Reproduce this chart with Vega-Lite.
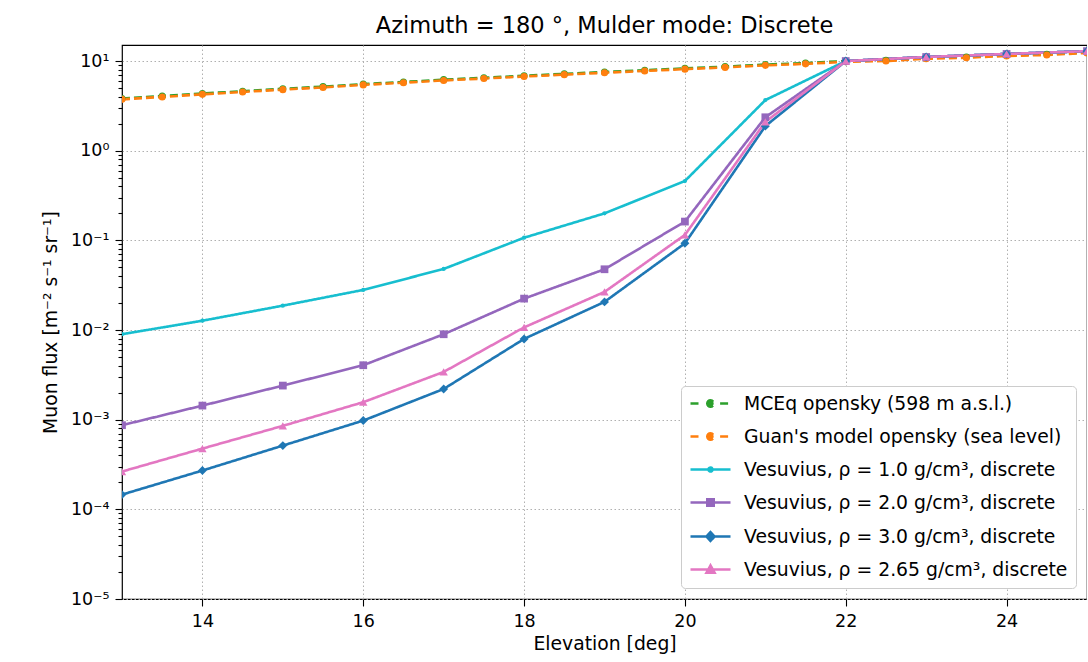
{
  "$schema": "https://vega.github.io/schema/vega-lite/v6.json",
  "width": 965,
  "height": 554,
  "autosize": "none",
  "padding": {"left": 122, "top": 45, "right": 0, "bottom": 63},
  "background": "white",
  "config": {
    "font": "DejaVu Sans",
    "view": {"stroke": "black", "strokeWidth": 1.2},
    "axis": {"labelFont": "DejaVu Sans", "titleFont": "DejaVu Sans", "labelColor": "black", "titleColor": "black", "titleFontWeight": "normal", "tickColor": "black", "domainColor": "black", "gridColor": "#b0b0b0", "gridDash": [1.5, 2.5], "gridWidth": 1, "tickWidth": 1.1}
  },
  "title": {"text": "Azimuth = 180 °, Mulder mode: Discrete", "fontSize": 22.5, "font": "DejaVu Sans", "fontWeight": "normal", "anchor": "middle", "offset": 8, "color": "black"},
  "data": {"values": [
    {"s": "MCEq opensky (598 m a.s.l.)", "x": 13, "y": 3.81}, {"s": "MCEq opensky (598 m a.s.l.)", "x": 13.5, "y": 4.06}, {"s": "MCEq opensky (598 m a.s.l.)", "x": 14, "y": 4.34}, {"s": "MCEq opensky (598 m a.s.l.)", "x": 14.5, "y": 4.61}, {"s": "MCEq opensky (598 m a.s.l.)", "x": 15, "y": 4.9}, {"s": "MCEq opensky (598 m a.s.l.)", "x": 15.5, "y": 5.18}, {"s": "MCEq opensky (598 m a.s.l.)", "x": 16, "y": 5.53}, {"s": "MCEq opensky (598 m a.s.l.)", "x": 16.5, "y": 5.84}, {"s": "MCEq opensky (598 m a.s.l.)", "x": 17, "y": 6.2}, {"s": "MCEq opensky (598 m a.s.l.)", "x": 17.5, "y": 6.51}, {"s": "MCEq opensky (598 m a.s.l.)", "x": 18, "y": 6.85}, {"s": "MCEq opensky (598 m a.s.l.)", "x": 18.5, "y": 7.19}, {"s": "MCEq opensky (598 m a.s.l.)", "x": 19, "y": 7.55}, {"s": "MCEq opensky (598 m a.s.l.)", "x": 19.5, "y": 7.9}, {"s": "MCEq opensky (598 m a.s.l.)", "x": 20, "y": 8.28}, {"s": "MCEq opensky (598 m a.s.l.)", "x": 20.5, "y": 8.67}, {"s": "MCEq opensky (598 m a.s.l.)", "x": 21, "y": 9.13}, {"s": "MCEq opensky (598 m a.s.l.)", "x": 21.5, "y": 9.49}, {"s": "MCEq opensky (598 m a.s.l.)", "x": 22, "y": 10.0}, {"s": "MCEq opensky (598 m a.s.l.)", "x": 22.5, "y": 10.2}, {"s": "MCEq opensky (598 m a.s.l.)", "x": 23, "y": 10.8}, {"s": "MCEq opensky (598 m a.s.l.)", "x": 23.5, "y": 11.1}, {"s": "MCEq opensky (598 m a.s.l.)", "x": 24, "y": 11.6}, {"s": "MCEq opensky (598 m a.s.l.)", "x": 24.5, "y": 11.9}, {"s": "MCEq opensky (598 m a.s.l.)", "x": 25, "y": 12.5},
    {"s": "Guan's model opensky (sea level)", "x": 13, "y": 3.74}, {"s": "Guan's model opensky (sea level)", "x": 13.5, "y": 3.98}, {"s": "Guan's model opensky (sea level)", "x": 14, "y": 4.25}, {"s": "Guan's model opensky (sea level)", "x": 14.5, "y": 4.52}, {"s": "Guan's model opensky (sea level)", "x": 15, "y": 4.8}, {"s": "Guan's model opensky (sea level)", "x": 15.5, "y": 5.08}, {"s": "Guan's model opensky (sea level)", "x": 16, "y": 5.42}, {"s": "Guan's model opensky (sea level)", "x": 16.5, "y": 5.73}, {"s": "Guan's model opensky (sea level)", "x": 17, "y": 6.08}, {"s": "Guan's model opensky (sea level)", "x": 17.5, "y": 6.38}, {"s": "Guan's model opensky (sea level)", "x": 18, "y": 6.72}, {"s": "Guan's model opensky (sea level)", "x": 18.5, "y": 7.05}, {"s": "Guan's model opensky (sea level)", "x": 19, "y": 7.4}, {"s": "Guan's model opensky (sea level)", "x": 19.5, "y": 7.75}, {"s": "Guan's model opensky (sea level)", "x": 20, "y": 8.12}, {"s": "Guan's model opensky (sea level)", "x": 20.5, "y": 8.5}, {"s": "Guan's model opensky (sea level)", "x": 21, "y": 8.95}, {"s": "Guan's model opensky (sea level)", "x": 21.5, "y": 9.3}, {"s": "Guan's model opensky (sea level)", "x": 22, "y": 9.8}, {"s": "Guan's model opensky (sea level)", "x": 22.5, "y": 10.0}, {"s": "Guan's model opensky (sea level)", "x": 23, "y": 10.6}, {"s": "Guan's model opensky (sea level)", "x": 23.5, "y": 10.9}, {"s": "Guan's model opensky (sea level)", "x": 24, "y": 11.4}, {"s": "Guan's model opensky (sea level)", "x": 24.5, "y": 11.7}, {"s": "Guan's model opensky (sea level)", "x": 25, "y": 12.3},
    {"s": "Vesuvius, ρ = 1.0 g/cm³, discrete", "x": 13, "y": 0.00898}, {"s": "Vesuvius, ρ = 1.0 g/cm³, discrete", "x": 14, "y": 0.0127}, {"s": "Vesuvius, ρ = 1.0 g/cm³, discrete", "x": 15, "y": 0.0187}, {"s": "Vesuvius, ρ = 1.0 g/cm³, discrete", "x": 16, "y": 0.028}, {"s": "Vesuvius, ρ = 1.0 g/cm³, discrete", "x": 17, "y": 0.048}, {"s": "Vesuvius, ρ = 1.0 g/cm³, discrete", "x": 18, "y": 0.107}, {"s": "Vesuvius, ρ = 1.0 g/cm³, discrete", "x": 19, "y": 0.2}, {"s": "Vesuvius, ρ = 1.0 g/cm³, discrete", "x": 20, "y": 0.459}, {"s": "Vesuvius, ρ = 1.0 g/cm³, discrete", "x": 21, "y": 3.67}, {"s": "Vesuvius, ρ = 1.0 g/cm³, discrete", "x": 22, "y": 10.0}, {"s": "Vesuvius, ρ = 1.0 g/cm³, discrete", "x": 23, "y": 11.1}, {"s": "Vesuvius, ρ = 1.0 g/cm³, discrete", "x": 24, "y": 12.0}, {"s": "Vesuvius, ρ = 1.0 g/cm³, discrete", "x": 25, "y": 12.9},
    {"s": "Vesuvius, ρ = 2.0 g/cm³, discrete", "x": 13, "y": 0.000868}, {"s": "Vesuvius, ρ = 2.0 g/cm³, discrete", "x": 14, "y": 0.001436}, {"s": "Vesuvius, ρ = 2.0 g/cm³, discrete", "x": 15, "y": 0.0024}, {"s": "Vesuvius, ρ = 2.0 g/cm³, discrete", "x": 16, "y": 0.00405}, {"s": "Vesuvius, ρ = 2.0 g/cm³, discrete", "x": 17, "y": 0.00897}, {"s": "Vesuvius, ρ = 2.0 g/cm³, discrete", "x": 18, "y": 0.0224}, {"s": "Vesuvius, ρ = 2.0 g/cm³, discrete", "x": 19, "y": 0.0476}, {"s": "Vesuvius, ρ = 2.0 g/cm³, discrete", "x": 20, "y": 0.162}, {"s": "Vesuvius, ρ = 2.0 g/cm³, discrete", "x": 21, "y": 2.36}, {"s": "Vesuvius, ρ = 2.0 g/cm³, discrete", "x": 22, "y": 10.0}, {"s": "Vesuvius, ρ = 2.0 g/cm³, discrete", "x": 23, "y": 11.1}, {"s": "Vesuvius, ρ = 2.0 g/cm³, discrete", "x": 24, "y": 12.0}, {"s": "Vesuvius, ρ = 2.0 g/cm³, discrete", "x": 25, "y": 12.9},
    {"s": "Vesuvius, ρ = 3.0 g/cm³, discrete", "x": 13, "y": 0.000146}, {"s": "Vesuvius, ρ = 3.0 g/cm³, discrete", "x": 14, "y": 0.000271}, {"s": "Vesuvius, ρ = 3.0 g/cm³, discrete", "x": 15, "y": 0.000514}, {"s": "Vesuvius, ρ = 3.0 g/cm³, discrete", "x": 16, "y": 0.000977}, {"s": "Vesuvius, ρ = 3.0 g/cm³, discrete", "x": 17, "y": 0.0022}, {"s": "Vesuvius, ρ = 3.0 g/cm³, discrete", "x": 18, "y": 0.00796}, {"s": "Vesuvius, ρ = 3.0 g/cm³, discrete", "x": 19, "y": 0.0206}, {"s": "Vesuvius, ρ = 3.0 g/cm³, discrete", "x": 20, "y": 0.0927}, {"s": "Vesuvius, ρ = 3.0 g/cm³, discrete", "x": 21, "y": 1.88}, {"s": "Vesuvius, ρ = 3.0 g/cm³, discrete", "x": 22, "y": 10.0}, {"s": "Vesuvius, ρ = 3.0 g/cm³, discrete", "x": 23, "y": 11.1}, {"s": "Vesuvius, ρ = 3.0 g/cm³, discrete", "x": 24, "y": 12.0}, {"s": "Vesuvius, ρ = 3.0 g/cm³, discrete", "x": 25, "y": 12.9},
    {"s": "Vesuvius, ρ = 2.65 g/cm³, discrete", "x": 13, "y": 0.000264}, {"s": "Vesuvius, ρ = 2.65 g/cm³, discrete", "x": 14, "y": 0.000476}, {"s": "Vesuvius, ρ = 2.65 g/cm³, discrete", "x": 15, "y": 0.000853}, {"s": "Vesuvius, ρ = 2.65 g/cm³, discrete", "x": 16, "y": 0.001567}, {"s": "Vesuvius, ρ = 2.65 g/cm³, discrete", "x": 17, "y": 0.00341}, {"s": "Vesuvius, ρ = 2.65 g/cm³, discrete", "x": 18, "y": 0.0107}, {"s": "Vesuvius, ρ = 2.65 g/cm³, discrete", "x": 19, "y": 0.0266}, {"s": "Vesuvius, ρ = 2.65 g/cm³, discrete", "x": 20, "y": 0.115}, {"s": "Vesuvius, ρ = 2.65 g/cm³, discrete", "x": 21, "y": 2.1}, {"s": "Vesuvius, ρ = 2.65 g/cm³, discrete", "x": 22, "y": 10.0}, {"s": "Vesuvius, ρ = 2.65 g/cm³, discrete", "x": 23, "y": 11.1}, {"s": "Vesuvius, ρ = 2.65 g/cm³, discrete", "x": 24, "y": 12.0}, {"s": "Vesuvius, ρ = 2.65 g/cm³, discrete", "x": 25, "y": 12.9}
  ]},
  "encoding": {
    "x": {"field": "x", "type": "quantitative", "scale": {"domain": [13, 25], "nice": false, "zero": false},
      "axis": {"title": "Elevation [deg]", "values": [14, 16, 18, 20, 22, 24], "labelFontSize": 17.5, "titleFontSize": 18.8, "tickSize": 7, "labelPadding": 6, "titlePadding": 5, "grid": true, "domain": false}},
    "y": {"field": "y", "type": "quantitative", "scale": {"type": "log", "domain": [0.00001, 15.1], "nice": false},
      "axis": {"title": "Muon flux [m⁻² s⁻¹ sr⁻¹]", "labelFontSize": 17.5, "titleFontSize": 18.8, "titlePadding": 10, "domain": false, "labelPadding": 6,
        "values": [0.00001, 0.00002, 0.00003, 0.00004, 0.00005, 0.00006, 0.00007, 0.00008, 0.00009, 0.0001, 0.0002, 0.0003, 0.0004, 0.0005, 0.0006, 0.0007, 0.0008, 0.0009, 0.001, 0.002, 0.003, 0.004, 0.005, 0.006, 0.007, 0.008, 0.009, 0.01, 0.02, 0.03, 0.04, 0.05, 0.06, 0.07, 0.08, 0.09, 0.1, 0.2, 0.3, 0.4, 0.5, 0.6, 0.7, 0.8, 0.9, 1, 2, 3, 4, 5, 6, 7, 8, 9, 10],
        "labelExpr": "abs(log(datum.value)/LN10 - round(log(datum.value)/LN10)) < 0.001 ? ['10⁻⁵','10⁻⁴','10⁻³','10⁻²','10⁻¹','10⁰','10¹'][round(log(datum.value)/LN10)+5] : ''",
        "tickSize": {"condition": {"test": "abs(log(datum.value)/LN10 - round(log(datum.value)/LN10)) < 0.001", "value": 7}, "value": 4},
        "gridOpacity": {"condition": {"test": "abs(log(datum.value)/LN10 - round(log(datum.value)/LN10)) < 0.001", "value": 1}, "value": 0}}}
  },
  "layer": [
    {
      "mark": {"type": "line", "clip": true},
      "encoding": {
        "color": {"field": "s", "type": "nominal",
          "scale": {"domain": ["MCEq opensky (598 m a.s.l.)", "Guan's model opensky (sea level)", "Vesuvius, ρ = 1.0 g/cm³, discrete", "Vesuvius, ρ = 2.0 g/cm³, discrete", "Vesuvius, ρ = 3.0 g/cm³, discrete", "Vesuvius, ρ = 2.65 g/cm³, discrete"], "range": ["#2ca02c", "#ff7f0e", "#17becf", "#9467bd", "#1f77b4", "#e377c2"]},
          "legend": {"title": null, "orient": "bottom-right", "offset": 11, "fillColor": "white", "strokeColor": "#cccccc", "cornerRadius": 4, "padding": 8, "labelFont": "DejaVu Sans", "labelFontSize": 18.8, "labelColor": "black", "labelOffset": 36, "labelLimit": 600, "rowPadding": 13, "symbolSize": 256, "symbolStrokeWidth": 2.2, "symbolOpacity": 1,
            "symbolFillColor": {"expr": "scale('color', datum.value)"},
            "symbolType": {"expr": "indexof(datum.value,'opensky')>=0 ? 'M-1,0H0.3M2.7,0H4M1.1,0A0.4,0.4 0 1,1 1.9,0A0.4,0.4 0 1,1 1.1,0Z' : indexof(datum.value,'1.0 g')>=0 ? 'M-1,0H4M1.25,0A0.25,0.25 0 1,1 1.75,0A0.25,0.25 0 1,1 1.25,0Z' : indexof(datum.value,'2.0 g')>=0 ? 'M-1,0H4M1.1,-0.4H1.9V0.4H1.1Z' : indexof(datum.value,'3.0 g')>=0 ? 'M-1,0H4M1.5,-0.55L2,0L1.5,0.55L1,0Z' : 'M-1,0H4M1.5,-0.5L2,0.4H1Z'"}}},
        "strokeDash": {"field": "s", "type": "nominal", "legend": null,
          "scale": {"domain": ["MCEq opensky (598 m a.s.l.)", "Guan's model opensky (sea level)", "Vesuvius, ρ = 1.0 g/cm³, discrete", "Vesuvius, ρ = 2.0 g/cm³, discrete", "Vesuvius, ρ = 3.0 g/cm³, discrete", "Vesuvius, ρ = 2.65 g/cm³, discrete"], "range": [[8, 4], [8, 4], [1, 0], [1, 0], [1, 0], [1, 0]]}},
        "strokeWidth": {"field": "s", "type": "nominal", "legend": null,
          "scale": {"domain": ["MCEq opensky (598 m a.s.l.)", "Guan's model opensky (sea level)", "Vesuvius, ρ = 1.0 g/cm³, discrete", "Vesuvius, ρ = 2.0 g/cm³, discrete", "Vesuvius, ρ = 3.0 g/cm³, discrete", "Vesuvius, ρ = 2.65 g/cm³, discrete"], "range": [2.6, 2.6, 2.1, 2.3, 2.3, 2.3]}}
      }
    },
    {
      "transform": [{"filter": {"field": "s", "oneOf": ["MCEq opensky (598 m a.s.l.)", "Guan's model opensky (sea level)"]}}],
      "mark": {"type": "point", "shape": "circle", "filled": true, "opacity": 1, "size": 50, "clip": true},
      "encoding": {"color": {"field": "s", "type": "nominal", "legend": null}}
    },
    {
      "transform": [{"filter": {"field": "s", "equal": "Vesuvius, ρ = 1.0 g/cm³, discrete"}}],
      "mark": {"type": "point", "shape": "circle", "filled": true, "opacity": 1, "size": 18, "clip": true},
      "encoding": {"color": {"field": "s", "type": "nominal", "legend": null}}
    },
    {
      "transform": [{"filter": {"field": "s", "equal": "Vesuvius, ρ = 2.0 g/cm³, discrete"}}],
      "mark": {"type": "point", "shape": "square", "filled": true, "opacity": 1, "size": 60, "clip": true},
      "encoding": {"color": {"field": "s", "type": "nominal", "legend": null}}
    },
    {
      "transform": [{"filter": {"field": "s", "equal": "Vesuvius, ρ = 3.0 g/cm³, discrete"}}],
      "mark": {"type": "point", "shape": "diamond", "filled": true, "opacity": 1, "size": 80, "clip": true},
      "encoding": {"color": {"field": "s", "type": "nominal", "legend": null}}
    },
    {
      "transform": [{"filter": {"field": "s", "equal": "Vesuvius, ρ = 2.65 g/cm³, discrete"}}],
      "mark": {"type": "point", "shape": "triangle-up", "filled": true, "opacity": 1, "size": 70, "clip": true},
      "encoding": {"color": {"field": "s", "type": "nominal", "legend": null}}
    }
  ]
}
